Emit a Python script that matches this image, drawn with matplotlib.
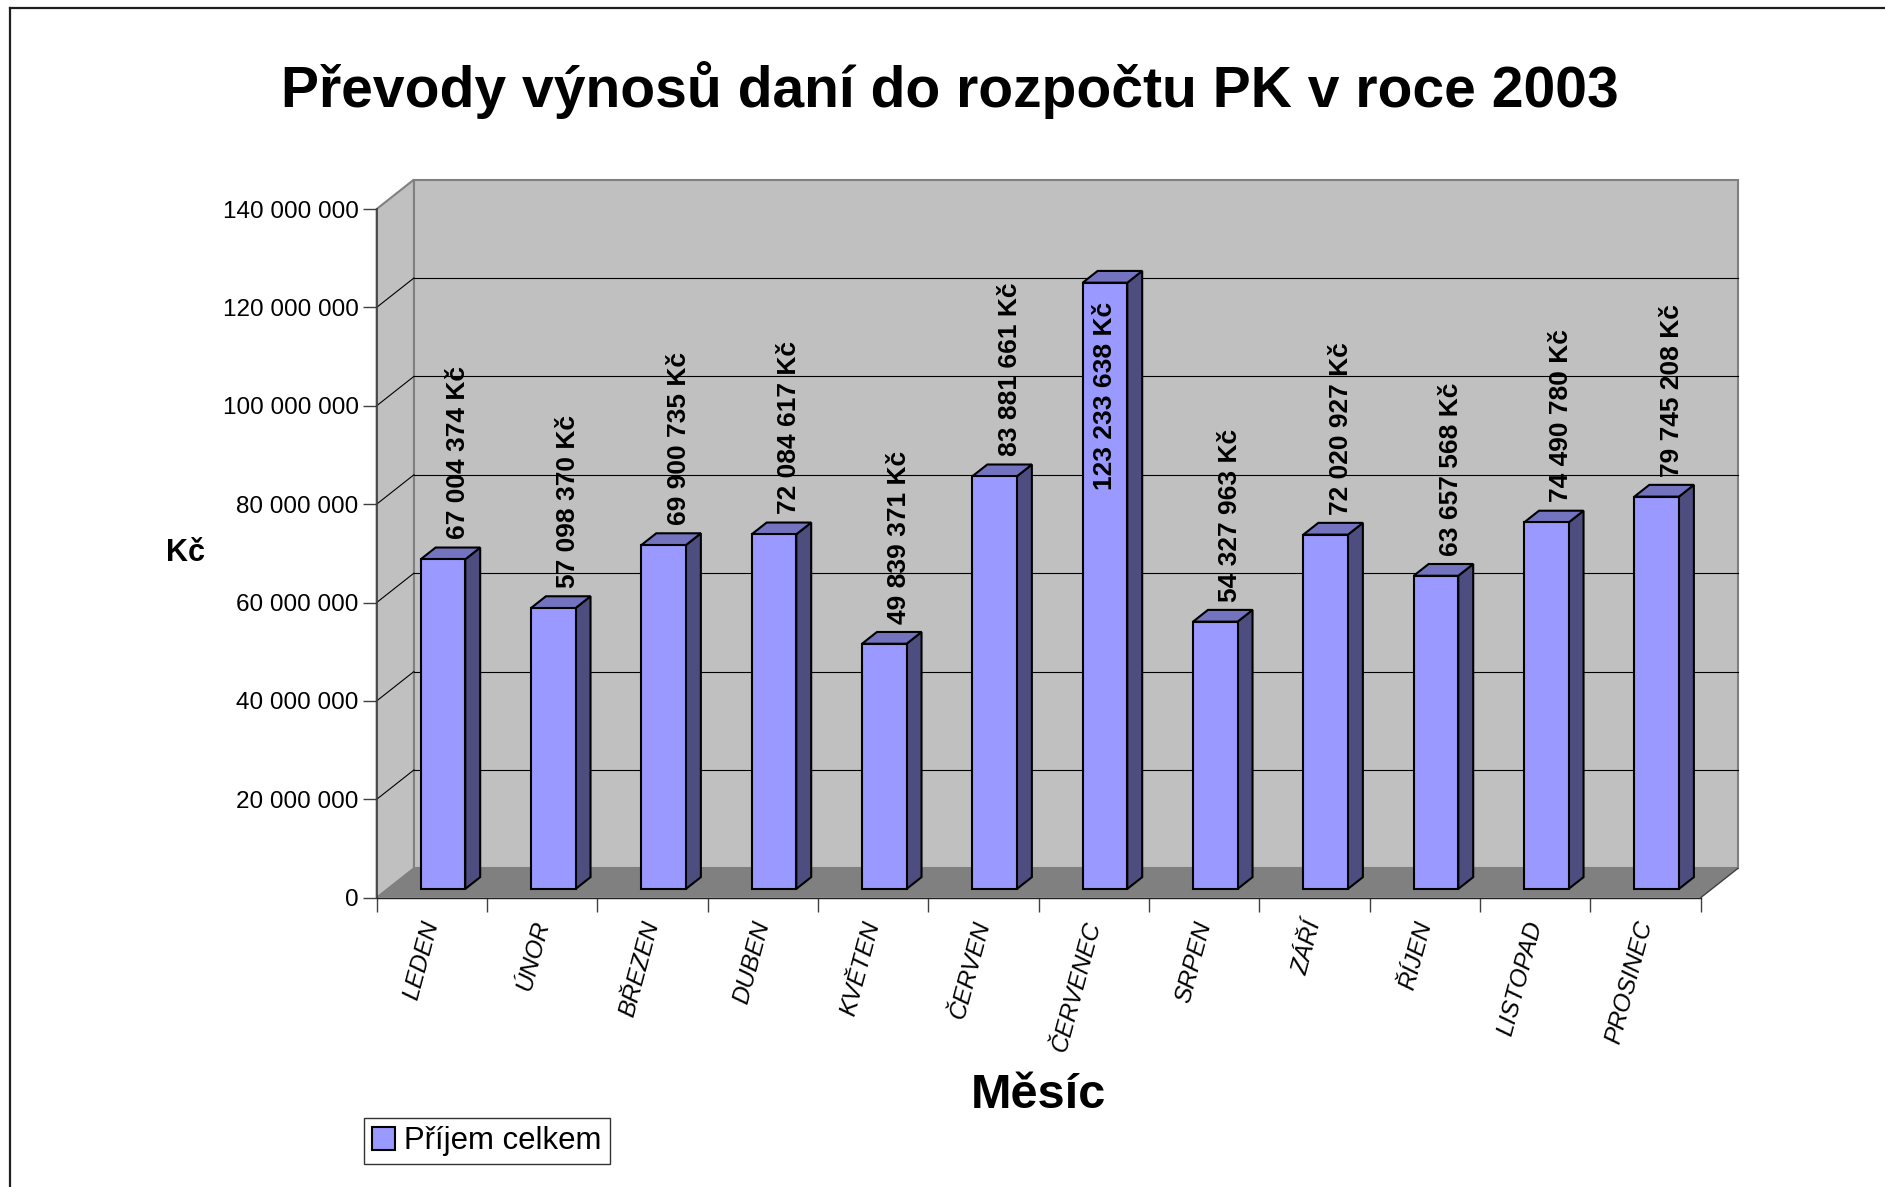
import matplotlib.pyplot as plt
from matplotlib.patches import Polygon, Patch
from matplotlib.lines import Line2D

# data
mesice = ["LEDEN", "ÚNOR", "BŘEZEN", "DUBEN", "KVĚTEN", "ČERVEN",
          "ČERVENEC", "SRPEN", "ZÁŘÍ", "ŘÍJEN", "LISTOPAD", "PROSINEC"]
prijem = [67004374, 57098370, 69900735, 72084617, 49839371, 83881661,
          123233638, 54327963, 72020927, 63657568, 74490780, 79745208]
y_ticks = [0, 20000000, 40000000, 60000000, 80000000, 100000000, 120000000, 140000000]

plt.rcParams['font.family'] = ['Liberation Sans', 'DejaVu Sans']

fig = plt.figure(figsize=(18.85, 11.87), dpi=100)
ax = fig.add_axes([0.1998, 0.2437, 0.7024, 0.5802])
ymax = y_ticks[-1]
n = len(mesice)
ax.set_xlim(0, n)
ax.set_ylim(0, ymax)
ax.set_facecolor('none')
for s in ax.spines.values():
    s.set_visible(False)

# hloubka 3D efektu (v pixelech -> data)
inv = ax.transData.inverted()
p0 = ax.transData.transform((0, 0))
hx, hy = inv.transform(p0 + [37.3, 29.4])


def pt(x, y, d):
    return (x + d * hx, y + d * hy)


def poly(pts, fc, ec='none', lw=1.0, z=1):
    ax.add_patch(Polygon(pts, closed=True, facecolor=fc, edgecolor=ec,
                         linewidth=lw, zorder=z, clip_on=False, joinstyle='miter'))


def line(a, b, color='black', lw=0.8, z=1.5):
    ax.add_line(Line2D([a[0], b[0]], [a[1], b[1]], color=color, lw=lw,
                       zorder=z, clip_on=False))


# steny a podlaha
poly([pt(0, 0, 1), pt(n, 0, 1), pt(n, ymax, 1), pt(0, ymax, 1)], '#C0C0C0', '#808080', 1.5, 0)
poly([pt(0, 0, 0), pt(0, 0, 1), pt(0, ymax, 1), pt(0, ymax, 0)], '#C0C0C0', '#808080', 1.5, 0.1)
poly([pt(0, 0, 0), pt(n, 0, 0), pt(n, 0, 1), pt(0, 0, 1)], '#808080', 'none', 1, 0.2)

##mrizka
for v in y_ticks[1:-1]:
    line(pt(0, v, 1), pt(n, v, 1))
    line(pt(0, v, 0), pt(0, v, 1))

line(pt(0, 0, 0), pt(0, ymax, 0), '#404040', 1.2, 2)
line(pt(0, 0, 0), pt(n, 0, 0), '#202020', 1.0, 2)
line(pt(n, 0, 0), pt(n, 0, 1), '#404040', 1.0, 2)

##sloupce
w = 0.202
d0, d1 = 0.3, 0.7
for i, v in enumerate(prijem):
    x0, x1 = i + 0.5 - w, i + 0.5 + w
    poly([pt(x1, 0, d0), pt(x1, v, d0), pt(x1, v, d1), pt(x1, 0, d1)], '#4D4D80', 'black', 1.5, 3)
    poly([pt(x0, v, d0), pt(x1, v, d0), pt(x1, v, d1), pt(x0, v, d1)], '#7373BF', 'black', 1.5, 3)
    poly([pt(x0, 0, d0), pt(x1, 0, d0), pt(x1, v, d0), pt(x0, v, d0)], '#9999FF', 'black', 1.5, 3)
    txt = f"{v:,}".replace(",", " ") + " Kč"
    if v > 0.8 * ymax:
        ax.annotate(txt, xy=pt(i + 0.5, v, d0), xytext=(0, -14), textcoords='offset points',
                    rotation=90, ha='center', va='top', fontsize=19, fontweight='bold', zorder=5)
    else:
        ax.annotate(txt, xy=pt(i + 0.5, v, 0.5 * (d0 + d1) + 0.2), xytext=(0, 6), textcoords='offset points',
                    rotation=90, ha='center', va='bottom', fontsize=19, fontweight='bold', zorder=5)

##osy
ax.set_yticks(y_ticks)
ax.set_yticklabels([f"{t:,}".replace(",", " ") for t in y_ticks])
ax.tick_params(axis='y', length=10, width=1, color='#404040', pad=3, labelsize=17.5)
ax.set_xticks(range(n + 1))
ax.set_xticklabels([])
ax.tick_params(axis='x', which='major', length=10, width=1, color='#404040')
ax.set_xticks([i + 0.5 for i in range(n)], minor=True)
ax.set_xticklabels(mesice, minor=True, rotation=75, ha='right', va='center',
                   rotation_mode='anchor', fontstyle='italic', fontsize=17.5)
ax.tick_params(axis='x', which='minor', length=0, pad=17)

fig.text(186 / 1885, 1 - 553 / 1187, 'Kč', fontsize=22, fontweight='bold', ha='center', va='center')
fig.text(1038 / 1885, 1 - 1096 / 1187, 'Měsíc', fontsize=35, fontweight='bold', ha='center', va='center')
fig.text(950 / 1885, 1 - 90 / 1187, 'Převody výnosů daní do rozpočtu PK v roce 2003',
         fontsize=41, fontweight='bold', ha='center', va='center')

leg = fig.legend(handles=[Patch(facecolor='#9999FF', edgecolor='black', linewidth=1.5, label='Příjem celkem')],
                 loc='lower left', bbox_to_anchor=(364 / 1885, 1 - 1164 / 1187), frameon=True,
                 fontsize=22.4, fancybox=False, edgecolor='black', borderpad=0.25,
                 handlelength=0.75, handleheight=0.75, handletextpad=0.3, borderaxespad=0)
leg.get_frame().set_linewidth(1)

# ramecek
fig.add_artist(Line2D([10 / 1885, 10 / 1885], [0, 1 - 8 / 1187], transform=fig.transFigure, color='#202020', lw=1.6))
fig.add_artist(Line2D([10 / 1885, 1], [1 - 8 / 1187, 1 - 8 / 1187], transform=fig.transFigure, color='#202020', lw=1.6))

fig.savefig('out.png', dpi=100)
